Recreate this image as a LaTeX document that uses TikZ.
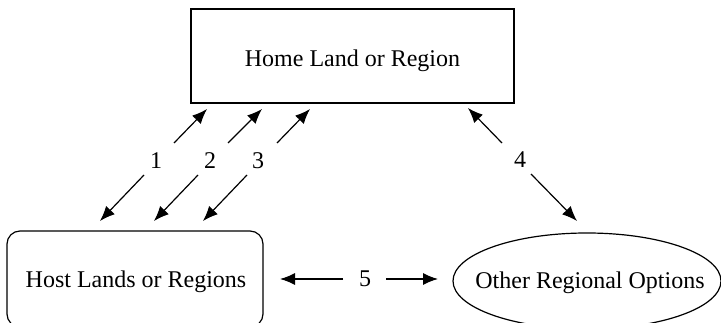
\documentclass[tikz,border=0pt]{standalone}
\usepackage{fontspec}
\setmainfont{Liberation Serif}
\usetikzlibrary{arrows.meta,shapes.geometric}
\begin{document}
\begin{tikzpicture}[x=1pt,y=-1pt,
  every node/.style={font=\fontsize{24}{28}\selectfont, inner sep=0pt},
  box/.style={draw, line width=1.2pt},
  txt/.style={anchor=base},
  arr/.style={line width=1.2pt, -{Latex[length=15pt,width=12pt]}},
  num/.style={}]
\useasboundingbox (0,0) rectangle (721,323);
\node[box, minimum width=323pt, minimum height=94pt] (home) at (352.5,56) {};
\node[box, rounded corners=13pt, minimum width=256pt, minimum height=96pt] (host) at (135,279) {};
\node[box, ellipse, minimum width=268pt, minimum height=96pt] (other) at (587,281) {};
\node[txt] (homet) at (352.5,67) {Home Land or Region};
\node[txt] (hostt) at (136,288) {Host Lands or Regions};
\node[txt] (othert) at (590,289) {Other Regional Options};
% labels
\node[num] (n1) at (156,161) {1};
\node[num] (n2) at (210,161) {2};
\node[num] (n3) at (258,161) {3};
\node[num] (n4) at (520,160) {4};
\node[num] (n5) at (365,279) {5};
% arrow coordinates
\coordinate (a1s) at (174,143); \coordinate (a1t) at (207,109);
\coordinate (b1s) at (144,175); \coordinate (b1t) at (100,221);
\coordinate (a2s) at (228,143); \coordinate (a2t) at (262,109);
\coordinate (b2s) at (198,175); \coordinate (b2t) at (154,221);
\coordinate (a3s) at (277,143); \coordinate (a3t) at (310,109);
\coordinate (b3s) at (247,175); \coordinate (b3t) at (203,221);
\coordinate (a4s) at (502,143); \coordinate (a4t) at (468,108);
\coordinate (b4s) at (531,174); \coordinate (b4t) at (577,221);
\coordinate (a5s) at (343,279); \coordinate (a5t) at (280,279);
\coordinate (b5s) at (386,279); \coordinate (b5t) at (438,279);
\draw[arr] (a1s) -- (a1t);
\draw[arr] (b1s) -- (b1t);
\draw[arr] (a2s) -- (a2t);
\draw[arr] (b2s) -- (b2t);
\draw[arr] (a3s) -- (a3t);
\draw[arr] (b3s) -- (b3t);
\draw[arr] (a4s) -- (a4t);
\draw[arr] (b4s) -- (b4t);
\draw[arr] (a5s) -- (a5t);
\draw[arr] (b5s) -- (b5t);
\end{tikzpicture}
\end{document}
